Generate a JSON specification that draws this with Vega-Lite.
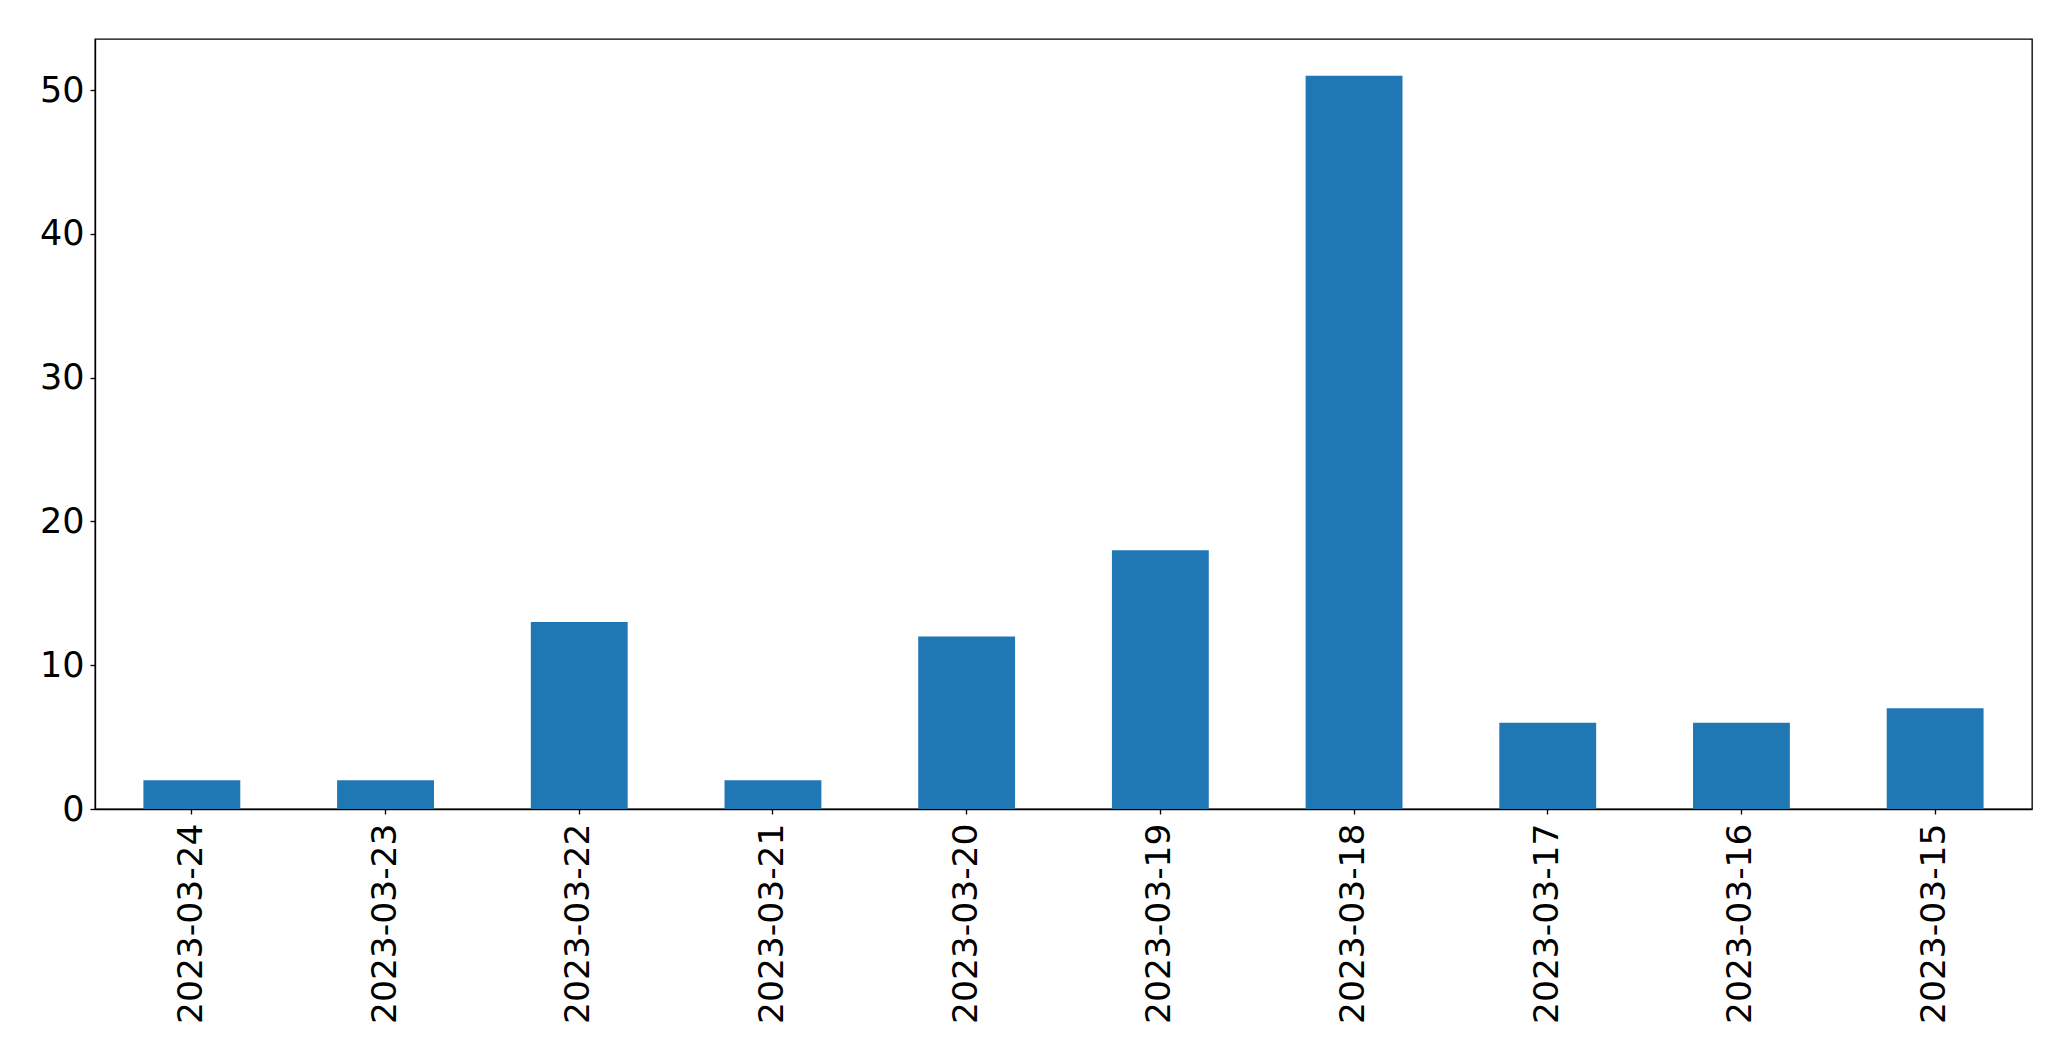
{
  "$schema": "https://vega.github.io/schema/vega-lite/v6.json",
  "autosize": {"type": "none"},
  "padding": {"left": 95, "top": 39, "right": 39, "bottom": 252},
  "width": 1937,
  "height": 770,
  "background": "white",
  "data": {
    "values": [
      {"date": "2023-03-24", "count": 2},
      {"date": "2023-03-23", "count": 2},
      {"date": "2023-03-22", "count": 13},
      {"date": "2023-03-21", "count": 2},
      {"date": "2023-03-20", "count": 12},
      {"date": "2023-03-19", "count": 18},
      {"date": "2023-03-18", "count": 51},
      {"date": "2023-03-17", "count": 6},
      {"date": "2023-03-16", "count": 6},
      {"date": "2023-03-15", "count": 7}
    ]
  },
  "mark": {"type": "bar", "color": "#1f77b4"},
  "encoding": {
    "x": {
      "field": "date",
      "type": "nominal",
      "sort": null,
      "scale": {"paddingInner": 0.5, "paddingOuter": 0.25},
      "axis": {
        "title": null,
        "labelAngle": 270,
        "labelFontSize": 34.5,
        "labelFont": "DejaVu Sans",
        "labelColor": "black",
        "labelPadding": 9,
        "labelLimit": 0,
        "tickSize": 5,
        "tickColor": "black",
        "tickWidth": 1.33,
        "domainColor": "black",
        "domainWidth": 1.33,
        "grid": false
      }
    },
    "y": {
      "field": "count",
      "type": "quantitative",
      "scale": {"domain": [0, 53.55], "nice": false, "zero": true},
      "axis": {
        "title": null,
        "values": [0, 10, 20, 30, 40, 50],
        "labelFontSize": 35,
        "labelFont": "DejaVu Sans",
        "labelColor": "black",
        "labelPadding": 6,
        "labelLimit": 0,
        "tickSize": 5,
        "tickColor": "black",
        "tickWidth": 1.33,
        "domainColor": "black",
        "domainWidth": 1.33,
        "grid": false
      }
    }
  },
  "config": {
    "view": {"stroke": "black", "strokeWidth": 1.33}
  }
}
